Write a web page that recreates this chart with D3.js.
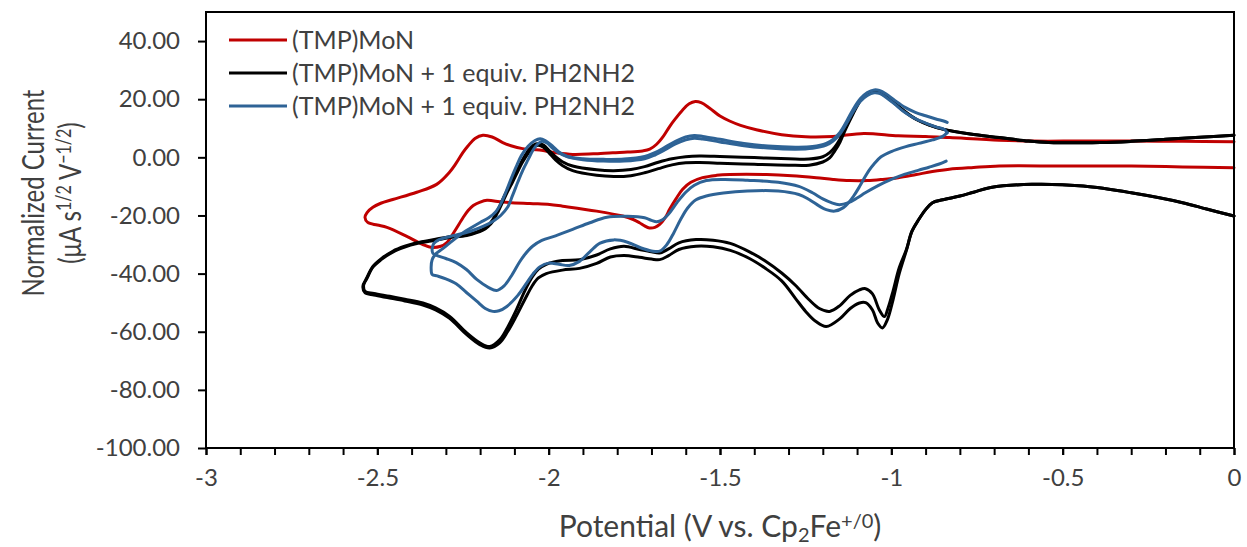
<!DOCTYPE html>
<html>
<head>
<meta charset="utf-8">
<script src="https://cdn.jsdelivr.net/npm/d3@7"></script>
<style>
  html, body { margin: 0; padding: 0; background: #ffffff; }
  svg { display: block; font-family: Lato, "Open Sans", sans-serif; }
</style>
</head>
<body>
<svg id="chart" width="1247" height="547"></svg>
<script>
// Cyclic voltammograms of (TMP)MoN, potential in V vs. Cp2Fe+/0, normalized current.
// Each trace is a list of [potential, current] pairs in scan order.

const seriesNames = ["(TMP)MoN", "(TMP)MoN + 1 equiv. PH2NH2", "(TMP)MoN + 1 equiv. PH2NH2"];
const seriesColors = ["#c00000", "#000000", "#2e6396"];

const xTicksMajor = [-3, -2.5, -2, -1.5, -1, -0.5, 0];
const xTickLabels = ["-3", "-2.5", "-2", "-1.5", "-1", "-0.5", "0"];
const xTicksMinor = [-3, -2.9, -2.8, -2.7, -2.6, -2.5, -2.4, -2.3, -2.2, -2.1, -2, -1.9, -1.8, -1.7, -1.6, -1.5,
                     -1.4, -1.3, -1.2, -1.1, -1, -0.9, -0.8, -0.7, -0.6, -0.5, -0.4, -0.3, -0.2, -0.1, 0];
const yTicks = [-100, -80, -60, -40, -20, 0, 20, 40];
const yTickLabels = ["-100.00", "-80.00", "-60.00", "-40.00", "-20.00", "0.00", "20.00", "40.00"];

// (TMP)MoN, single cycle
const redCV = [
  [0, 5.4], [-0.15, 5.5], [-0.3, 5.6], [-0.45, 5.6], [-0.59, 5.6], [-0.685, 5.9], [-0.83, 6.8], [-0.9, 7.2],
  [-0.98, 7.4], [-1.08, 8.2], [-1.17, 7.2], [-1.25, 7.1], [-1.32, 7.8], [-1.394, 9.5], [-1.44, 11], [-1.472, 12.5],
  [-1.5, 14.2], [-1.531, 17.0], [-1.555, 18.8], [-1.572, 19.2], [-1.59, 18.4], [-1.609, 16.3], [-1.63, 13.3],
  [-1.647, 10.6], [-1.665, 7.3], [-1.685, 4.5], [-1.705, 2.8], [-1.726, 2.2], [-1.77, 1.8], [-1.813, 1.6],
  [-1.87, 1.2], [-1.93, 1.0], [-1.98, 1.6], [-2.026, 2.5], [-2.076, 3.0], [-2.11, 4.0], [-2.134, 5.1],
  [-2.165, 7.0], [-2.192, 7.6], [-2.215, 6.5], [-2.235, 4.0], [-2.25, 1.7], [-2.27, -2], [-2.29, -5.2],
  [-2.327, -9.3], [-2.385, -12], [-2.455, -14.5], [-2.49, -15.8], [-2.513, -17.2], [-2.53, -19], [-2.536, -20.7],
  [-2.528, -22.4], [-2.5, -23.3], [-2.472, -24.1], [-2.414, -27.2], [-2.367, -30], [-2.341, -31], [-2.315, -30.6],
  [-2.297, -29.3], [-2.275, -25.5], [-2.25, -20.8], [-2.235, -18.3], [-2.22, -16.6], [-2.2, -15.4], [-2.18, -14.8],
  [-2.134, -15.4], [-2.055, -15.9], [-1.997, -16.2], [-1.959, -16.8], [-1.86, -18.5], [-1.784, -20.2],
  [-1.755, -21.3], [-1.735, -22.5], [-1.72, -23.6], [-1.706, -24.3], [-1.69, -24.1], [-1.676, -23.1],
  [-1.66, -20.8], [-1.647, -17.9], [-1.628, -14.2], [-1.609, -11], [-1.585, -8.6], [-1.551, -7.0], [-1.51, -6.2],
  [-1.472, -5.9], [-1.364, -5.9], [-1.29, -6.3], [-1.219, -7.0], [-1.17, -7.6], [-1.122, -8.0], [-1.07, -8.0],
  [-1.026, -7.6], [-0.98, -7.0], [-0.927, -5.9], [-0.88, -4.9], [-0.831, -4.1], [-0.76, -3.5], [-0.685, -3.0],
  [-0.5, -3.0], [-0.3, -3.0], [-0.15, -3.3], [0, -3.6]
];

// (TMP)MoN + PH2NH2, switching at 0 V and -2.54 V, first cycle
const blackCycle1 = [
  [0, -20.2], [-0.08, -17.8], [-0.15, -15.6], [-0.3, -12.2], [-0.44, -9.9], [-0.59, -9.3], [-0.71, -10.4],
  [-0.76, -12.0], [-0.8, -13.3], [-0.85, -14.6], [-0.88, -15.6], [-0.9, -18.0], [-0.92, -21.4], [-0.94, -25.5],
  [-0.956, -31.7], [-0.977, -38], [-0.995, -46], [-1.01, -52], [-1.02, -54.8], [-1.035, -52.5], [-1.055, -47],
  [-1.075, -45.2], [-1.093, -45.6], [-1.12, -47.5], [-1.15, -51], [-1.18, -53], [-1.21, -52], [-1.24, -49],
  [-1.28, -44], [-1.32, -39.8], [-1.37, -35.5], [-1.414, -32.5], [-1.47, -29.6], [-1.52, -28.5], [-1.57, -28.3],
  [-1.62, -29.4], [-1.65, -31.5], [-1.676, -32.9], [-1.7, -32.5], [-1.735, -31.7], [-1.78, -30.6], [-1.82, -31.5],
  [-1.86, -33.6], [-1.91, -35.2], [-1.96, -35.5], [-2.007, -36.8], [-2.03, -38.5], [-2.047, -41], [-2.07, -46],
  [-2.094, -52.4], [-2.12, -58.5], [-2.143, -62.8], [-2.172, -65.1], [-2.2, -63.9], [-2.239, -60.4],
  [-2.289, -54.7], [-2.33, -51.8], [-2.367, -50.1], [-2.42, -48.8], [-2.464, -47.8], [-2.51, -46.8],
  [-2.536, -46.1], [-2.54, -44], [-2.531, -41.5], [-2.513, -37.5], [-2.49, -35], [-2.455, -32.3], [-2.42, -30.6],
  [-2.385, -29.4], [-2.33, -28.2], [-2.29, -27.3], [-2.239, -26.6], [-2.192, -24.8], [-2.175, -23.2],
  [-2.163, -21.4], [-2.15, -18.5], [-2.134, -14.5], [-2.12, -11], [-2.105, -7.6], [-2.09, -4], [-2.077, -1],
  [-2.06, 2.2], [-2.045, 4.2], [-2.03, 4.8], [-2.015, 4.2], [-2.0, 2.5], [-1.98, 0.2], [-1.96, -1.5], [-1.93, -3],
  [-1.86, -4.3], [-1.81, -4.6], [-1.76, -4.2], [-1.72, -3.2], [-1.68, -1.7], [-1.64, -0.5], [-1.6, 0.2],
  [-1.56, 0.45], [-1.5, 0.3], [-1.4, -0.1], [-1.3, -0.5], [-1.24, -0.6], [-1.2, 0.2], [-1.18, 1.6], [-1.165, 3.5],
  [-1.15, 6.2], [-1.135, 10], [-1.117, 14.2], [-1.1, 18], [-1.085, 20.6], [-1.065, 22.3], [-1.044, 22.9],
  [-1.02, 21.5], [-0.997, 19.4], [-0.96, 15.8], [-0.927, 13.1], [-0.89, 11.2], [-0.85, 9.7], [-0.77, 8.0],
  [-0.685, 6.8], [-0.6, 5.6], [-0.54, 5.1], [-0.39, 5.1], [-0.3, 5.5], [-0.2, 6.2], [-0.1, 6.9], [0, 7.6]
];

// (TMP)MoN + PH2NH2, second cycle
const blackCycle2 = [
  [0, -20.2], [-0.08, -17.8], [-0.15, -15.6], [-0.3, -12.2], [-0.44, -9.9], [-0.59, -9.3], [-0.71, -10.4],
  [-0.76, -12.0], [-0.8, -13.3], [-0.85, -14.6], [-0.88, -15.6], [-0.9, -18.0], [-0.92, -21.4], [-0.94, -25.5],
  [-0.956, -32], [-0.977, -40], [-0.995, -49], [-1.012, -56], [-1.026, -58.7], [-1.04, -57], [-1.055, -52.5],
  [-1.075, -50], [-1.093, -50.1], [-1.12, -52], [-1.15, -55.5], [-1.19, -58.2], [-1.22, -56.5], [-1.25, -53],
  [-1.28, -48.5], [-1.32, -42.5], [-1.37, -38], [-1.414, -34.8], [-1.47, -32], [-1.52, -30.8], [-1.57, -30.6],
  [-1.62, -31.7], [-1.65, -33.8], [-1.676, -35.2], [-1.7, -35], [-1.735, -34.4], [-1.78, -33.8], [-1.82, -34.3],
  [-1.86, -36.5], [-1.91, -38.2], [-1.96, -38.8], [-2.007, -40], [-2.03, -41.5], [-2.047, -44], [-2.07, -49],
  [-2.094, -54.5], [-2.12, -60], [-2.143, -63.8], [-2.172, -65.6], [-2.2, -64.5], [-2.239, -61], [-2.289, -55.4],
  [-2.33, -52.5], [-2.367, -50.8], [-2.42, -49.4], [-2.464, -48.4], [-2.51, -47.4], [-2.536, -46.6],
  [-2.542, -44.3], [-2.531, -41.8], [-2.513, -37.8], [-2.49, -35.3], [-2.455, -32.6], [-2.42, -30.9],
  [-2.385, -29.7], [-2.33, -28.5], [-2.29, -27.6], [-2.239, -26.9], [-2.192, -25.1], [-2.175, -23.6],
  [-2.163, -22], [-2.15, -19.2], [-2.134, -15.3], [-2.12, -11.8], [-2.105, -8.4], [-2.09, -4.8], [-2.077, -1.8],
  [-2.06, 1.4], [-2.045, 3.5], [-2.03, 4.2], [-2.015, 3.5], [-2.0, 1.7], [-1.98, -0.9], [-1.96, -2.8],
  [-1.93, -4.6], [-1.86, -6.2], [-1.81, -6.6], [-1.76, -6.3], [-1.72, -5.3], [-1.68, -3.9], [-1.64, -2.6],
  [-1.6, -1.9], [-1.56, -1.8], [-1.5, -2.0], [-1.4, -2.4], [-1.3, -2.7], [-1.24, -2.7], [-1.2, -1.6],
  [-1.18, -0.2], [-1.165, 2.2], [-1.15, 5.2], [-1.135, 9.3], [-1.117, 13.7], [-1.1, 17.6], [-1.085, 20.3],
  [-1.065, 22.0], [-1.044, 22.6], [-1.02, 21.3], [-0.997, 19.2], [-0.96, 15.6], [-0.927, 13.0], [-0.89, 11.1],
  [-0.85, 9.7], [-0.77, 8.0], [-0.685, 6.8], [-0.6, 5.6], [-0.54, 5.1], [-0.39, 5.1], [-0.3, 5.5], [-0.2, 6.2],
  [-0.1, 6.9], [0, 7.6]
];

// (TMP)MoN + PH2NH2, narrower window (-0.84 V to -2.34 V), first cycle
const blueCycle1 = [
  [-0.84, -1.3], [-0.86, -2.3], [-0.89, -3.4], [-0.92, -4.4], [-0.96, -5.8], [-1.0, -7.6], [-1.04, -9.8],
  [-1.076, -12.2], [-1.1, -14], [-1.125, -15.6], [-1.152, -16.3], [-1.175, -15.6], [-1.2, -14.3], [-1.23, -12.2],
  [-1.27, -10], [-1.33, -8.6], [-1.42, -7.9], [-1.49, -7.6], [-1.54, -8.0], [-1.575, -9.6], [-1.6, -12],
  [-1.625, -15.5], [-1.65, -19.5], [-1.668, -21.5], [-1.685, -22.2], [-1.7, -21.7], [-1.72, -20.8],
  [-1.77, -20.3], [-1.83, -20.6], [-1.88, -22.5], [-1.93, -24.8], [-1.98, -27], [-2.02, -28.6], [-2.047, -30.6],
  [-2.07, -33.5], [-2.085, -36], [-2.11, -41], [-2.13, -44.2], [-2.152, -45.8], [-2.175, -44.8], [-2.21, -42],
  [-2.24, -38.6], [-2.27, -36.2], [-2.3, -34.8], [-2.327, -33.7], [-2.338, -33.0], [-2.34, -31.5],
  [-2.335, -29.6], [-2.32, -28.3], [-2.28, -27], [-2.23, -25.5], [-2.19, -23.7], [-2.16, -21.8], [-2.14, -20],
  [-2.12, -17.2], [-2.105, -13], [-2.09, -8.5], [-2.075, -4.3], [-2.06, -0.8], [-2.045, 2.6], [-2.03, 4.8],
  [-2.018, 5.5], [-2.005, 4.9], [-1.99, 3.3], [-1.97, 1.5], [-1.945, 0.2], [-1.9, -0.8], [-1.84, -1.3],
  [-1.78, -1.3], [-1.72, -0.5], [-1.69, 0.8], [-1.66, 2.6], [-1.63, 4.6], [-1.6, 6.0], [-1.575, 6.6],
  [-1.55, 6.3], [-1.5, 5.3], [-1.43, 4.0], [-1.36, 3.2], [-1.28, 2.8], [-1.23, 3.1], [-1.19, 4.2], [-1.17, 5.6],
  [-1.15, 8.0], [-1.13, 11.8], [-1.11, 16], [-1.09, 19.3], [-1.07, 21.3], [-1.05, 22.2], [-1.035, 22],
  [-1.015, 20.6], [-0.99, 18.3], [-0.96, 15.4], [-0.93, 13.3], [-0.9, 11.8], [-0.87, 10.5], [-0.845, 9.6],
  [-0.837, 8.5]
];

// narrower window, second cycle
const blueCycle2 = [
  [-0.837, 8.5], [-0.85, 7.2], [-0.88, 6.0], [-0.92, 4.8], [-0.96, 3.6], [-1.0, 2.0], [-1.03, 0.2], [-1.05, -2.2],
  [-1.065, -4.5], [-1.08, -7.4], [-1.095, -10.5], [-1.11, -13.3], [-1.125, -15.6], [-1.14, -17.3],
  [-1.165, -18.5], [-1.19, -18.0], [-1.21, -16.8], [-1.24, -14.5], [-1.27, -12.8], [-1.33, -11.6],
  [-1.42, -11.6], [-1.49, -12.3], [-1.54, -13.3], [-1.57, -14.6], [-1.595, -17.5], [-1.615, -21.4],
  [-1.635, -26], [-1.655, -30], [-1.676, -32.3], [-1.7, -32.2], [-1.73, -31.2], [-1.77, -29.2], [-1.81, -28.4],
  [-1.85, -29.5], [-1.88, -32.5], [-1.91, -35.8], [-1.94, -37.2], [-1.97, -36.8], [-2.0, -36.4], [-2.025, -37.6],
  [-2.045, -40], [-2.064, -43.2], [-2.09, -47.5], [-2.122, -51.3], [-2.145, -52.8], [-2.163, -53],
  [-2.185, -52], [-2.21, -49.5], [-2.24, -46.5], [-2.27, -43.5], [-2.3, -41.8], [-2.325, -40.8], [-2.34, -40.3],
  [-2.343, -38], [-2.34, -35.2], [-2.33, -33.3], [-2.31, -31.5], [-2.29, -29.6], [-2.26, -26.8], [-2.23, -24.5],
  [-2.2, -22.4], [-2.175, -20.8], [-2.155, -18.8], [-2.14, -16], [-2.125, -12], [-2.11, -7.5], [-2.095, -3.3],
  [-2.08, 0.5], [-2.06, 3.8], [-2.04, 5.8], [-2.025, 6.4], [-2.01, 5.8], [-1.99, 4.0], [-1.97, 1.8],
  [-1.945, 0.3], [-1.9, -0.5], [-1.84, -0.7], [-1.78, -0.6], [-1.72, 0.3], [-1.69, 1.6], [-1.66, 3.5],
  [-1.63, 5.5], [-1.6, 7.0], [-1.575, 7.5], [-1.55, 7.2], [-1.5, 6.2], [-1.43, 4.8], [-1.36, 3.9], [-1.28, 3.5],
  [-1.23, 3.7], [-1.19, 4.8], [-1.17, 6.2], [-1.15, 8.6], [-1.13, 12.5], [-1.11, 16.8], [-1.09, 20.2],
  [-1.07, 22.3], [-1.05, 23.2], [-1.035, 23], [-1.015, 21.8], [-0.99, 19.6], [-0.96, 17.2], [-0.93, 15.5],
  [-0.9, 14.3], [-0.87, 13.2], [-0.845, 12.4], [-0.837, 12]
];

const traces = [
  { data: redCV, series: 0 },
  { data: blackCycle1, series: 1 },
  { data: blackCycle2, series: 1 },
  { data: blueCycle1, series: 2 },
  { data: blueCycle2, series: 2 }
];

// ---- layout ----
const plot = { left: 206, right: 1234, top: 12, bottom: 448 };
const textColor = "#404040";
const svg = d3.select("#chart");

const x = d3.scaleLinear().domain([-3, 0]).range([plot.left, plot.right]);
const y = d3.scaleLinear().domain([-100, 50]).range([plot.bottom, plot.top]);

// curves
const line = d3.line()
  .x(d => x(d[0]))
  .y(d => y(d[1]))
  .curve(d3.curveCatmullRom.alpha(0.5));

svg.append("g")
  .selectAll("path")
  .data(traces)
  .join("path")
  .attr("d", d => line(d.data))
  .attr("fill", "none")
  .attr("stroke", d => seriesColors[d.series])
  .attr("stroke-width", 3)
  .attr("stroke-linejoin", "round")
  .attr("stroke-linecap", "round");

// x axis: minor ticks, then labelled major ticks
const xMinor = svg.append("g")
  .attr("transform", `translate(0,${plot.bottom})`)
  .call(d3.axisBottom(x).tickValues(xTicksMinor).tickSize(7).tickFormat(""));
xMinor.select(".domain").remove();

const xMajor = svg.append("g")
  .attr("transform", `translate(0,${plot.bottom})`)
  .call(d3.axisBottom(x).tickValues(xTicksMajor).tickSize(7)
    .tickFormat((d, i) => xTickLabels[i]).tickPadding(14));
xMajor.select(".domain").remove();

const yAxis = svg.append("g")
  .attr("transform", `translate(${plot.left},0)`)
  .call(d3.axisLeft(y).tickValues(yTicks).tickSize(8)
    .tickFormat((d, i) => yTickLabels[i]).tickPadding(18));
yAxis.select(".domain").remove();

svg.selectAll(".tick line").attr("stroke", "#000").attr("stroke-width", 2);
svg.selectAll(".tick text")
  .attr("fill", textColor)
  .style("font-family", "Lato, sans-serif")
  .style("font-size", "24px");
xMajor.selectAll(".tick text").attr("dy", "0.71em");

// plot frame
svg.append("rect")
  .attr("x", plot.left)
  .attr("y", plot.top)
  .attr("width", plot.right - plot.left)
  .attr("height", plot.bottom - plot.top)
  .attr("fill", "none")
  .attr("stroke", "#000")
  .attr("stroke-width", 2);

// legend
const legend = svg.append("g").attr("transform", "translate(229,40)");
const rows = legend.selectAll("g")
  .data(seriesNames)
  .join("g")
  .attr("transform", (d, i) => `translate(0,${i * 33})`);
rows.append("line")
  .attr("x1", 0).attr("x2", 58)
  .attr("y1", 0).attr("y2", 0)
  .attr("stroke", (d, i) => seriesColors[i])
  .attr("stroke-width", 3);
rows.append("text")
  .attr("x", 63)
  .attr("y", 0)
  .attr("dy", "0.35em")
  .attr("fill", textColor)
  .style("font-size", "25px")
  .text(d => d);

// x axis title
const xTitle = svg.append("text")
  .attr("x", 720)
  .attr("y", 537)
  .attr("text-anchor", "middle")
  .attr("fill", textColor)
  .style("font-size", "30px");
xTitle.append("tspan").text("Potential (V vs. Cp");
xTitle.append("tspan").attr("baseline-shift", "-25%").style("font-size", "20px").text("2");
xTitle.append("tspan").text("Fe");
xTitle.append("tspan").attr("baseline-shift", "45%").style("font-size", "20px").text("+/0");
xTitle.append("tspan").text(")");

// y axis title: two rotated lines, glyphs widened across the line direction
function yTitleLine(cx) {
  return svg.append("g")
    .attr("transform", `translate(${cx},193) scale(1.3,1) rotate(-90)`)
    .append("text")
    .attr("x", 0).attr("y", 0)
    .attr("dy", "0.35em")
    .attr("text-anchor", "middle")
    .attr("fill", textColor)
    .style("font-size", "24px");
}
yTitleLine(33).text("Normalized Current");
const yUnits = yTitleLine(70);
yUnits.append("tspan").text("(\u03bcA s");
yUnits.append("tspan").attr("baseline-shift", "45%").style("font-size", "16px").text("1/2");
yUnits.append("tspan").text(" V");
yUnits.append("tspan").attr("baseline-shift", "45%").style("font-size", "16px").text("\u22121/2");
yUnits.append("tspan").text(")");
</script>
</body>
</html>
